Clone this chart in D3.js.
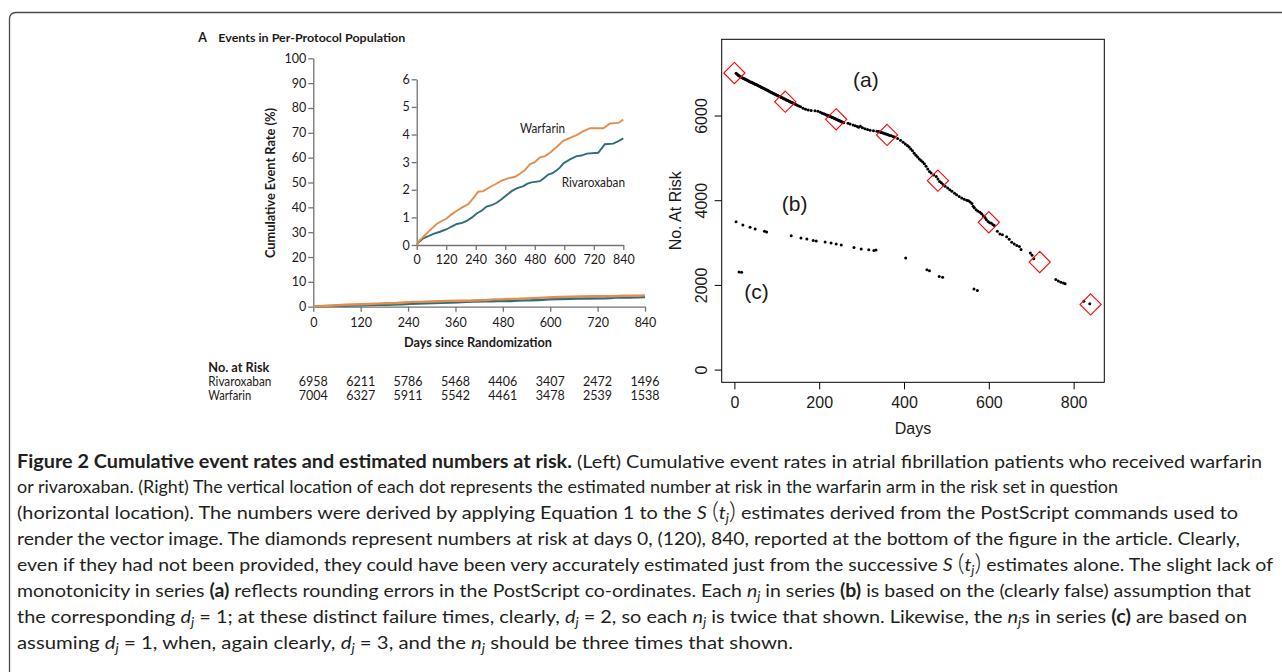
<!DOCTYPE html>
<html>
<head>
<meta charset="utf-8">
<script src="https://cdn.jsdelivr.net/npm/d3@7"></script>
<style>
  body { margin: 0; background: #fff; }
  svg { display: block; }
</style>
</head>
<body>
<svg id="fig" width="1282" height="672"></svg>
<script>
// ---- data ---------------------------------------------------------
const riskDays        = [0, 120, 240, 360, 480, 600, 720, 840];
const riskRivaroxaban = [6958, 6211, 5786, 5468, 4406, 3407, 2472, 1496];
const riskWarfarin    = [7004, 6327, 5911, 5542, 4461, 3478, 2539, 1538];

const mainYTicks  = [0, 10, 20, 30, 40, 50, 60, 70, 80, 90, 100];
const insetYTicks = [0, 1, 2, 3, 4, 5, 6];
const rightXTicks = [0, 200, 400, 600, 800];
const rightYTicks = [0, 2000, 4000, 6000];

// cumulative event rate (%), [day, rate]
const warfarinCurve = [
  [0,0],[10,0.15],[27,0.3],[50,0.5],[81,0.76],[100,0.86],[122,0.96],[140,1.1],[163,1.24],
  [185,1.36],[210,1.48],[230,1.7],[250,1.93],[271,1.95],[298,2.1],[320,2.2],[345,2.33],
  [375,2.42],[400,2.47],[420,2.58],[440,2.71],[461,2.93],[480,3.0],[501,3.17],[522,3.22],
  [542,3.34],[569,3.55],[596,3.77],[623,3.88],[650,3.98],[678,4.12],[705,4.23],[730,4.23],
  [759,4.23],[786,4.4],[820,4.42],[840,4.54]
];
const rivaroxabanCurve = [
  [0,0],[10,0.12],[27,0.24],[50,0.33],[68,0.4],[95,0.48],[122,0.57],[140,0.66],[163,0.76],
  [185,0.8],[203,0.87],[225,1.0],[244,1.14],[265,1.25],[284,1.39],[305,1.44],[325,1.53],
  [345,1.66],[366,1.81],[386,1.95],[406,2.05],[434,2.13],[450,2.22],[467,2.27],[501,2.31],
  [518,2.43],[535,2.55],[552,2.6],[569,2.71],[582,2.8],[596,2.95],[623,3.1],[650,3.22],
  [670,3.24],[691,3.31],[738,3.34],[752,3.5],[765,3.65],[799,3.67],[820,3.76],[840,3.86]
];

// estimated numbers at risk, [day, n]
const seriesA = [
  [4,7001],[7,6972],[9,6950],[11,6942],[13,6925],[15,6918],[17,6900],[19,6889],[21,6880],[23,6866],
  [25,6860],[27,6845],[29,6842],[31,6826],[33,6820],[35,6806],[37,6798],[39,6788],[41,6783],[43,6768],
  [45,6760],[47,6748],[49,6740],[51,6730],[53,6724],[55,6710],[57,6706],[59,6692],[61,6683],[63,6670],
  [65,6662],[67,6648],[69,6640],[71,6630],[73,6620],[75,6608],[77,6602],[79,6588],[81,6578],[83,6570],
  [85,6556],[87,6547],[89,6538],[91,6526],[93,6517],[95,6506],[97,6498],[99,6486],[101,6476],[103,6468],
  [105,6456],[107,6448],[109,6437],[111,6428],[113,6418],[115,6408],[117,6398],[119,6388],[121,6378],
  [123,6366],[125,6356],[127,6348],[129,6336],[131,6328],[133,6318],[135,6306],[137,6300],[139,6290],
  [142,6275],[145,6262],[148,6245],[152,6225],[156,6205],[162,6172],[168,6150],[174,6130],[181,6118],
  [190,6110],[197,6100],[203,6075],[207,6055],[211,6040],[214,6030],[217,6015],[219,6008],[221,6000],
  [223,5990],[225,5982],[227,5972],[229,5965],[231,5955],[233,5945],[235,5935],[237,5928],[239,5918],
  [241,5908],[243,5898],[245,5890],[247,5880],[249,5872],[251,5862],[253,5852],[255,5842],[258,5830],
  [268,5815],[273,5800],[280,5778],[285,5760],[290,5742],[293,5722],[297,5745],[302,5710],[308,5688],
  [314,5668],[320,5650],[328,5640],[336,5628],[340,5620],[343,5612],[346,5600],[349,5592],[352,5582],
  [355,5572],[358,5562],[361,5552],[364,5540],[367,5530],[370,5520],[374,5505],[378,5490],[385,5455],
  [392,5415],[398,5370],[403,5330],[408,5290],[412,5255],[416,5210],[420,5170],[424,5110],[428,5060],
  [432,5020],[436,4975],[440,4935],[444,4900],[448,4860],[452,4800],[456,4740],[460,4680],[464,4640],
  [470,4598],[476,4560],[480,4500],[484,4440],[488,4410],[492,4370],[497,4330],[503,4290],[508,4250],
  [513,4210],[519,4165],[524,4130],[530,4090],[536,4050],[542,4020],[548,4000],[552,3985],[556,3955],
  [560,3925],[563,3860],[566,3820],[570,3775],[574,3745],[579,3715],[583,3680],[587,3635],[591,3590],
  [594,3545],[598,3500],[602,3470],[606,3455],[610,3420],[613,3400],[620,3270],[626,3200],[632,3185],
  [642,3135],[648,3080],[654,3010],[660,2965],[666,2930],[672,2905],[676,2835],[698,2755],[702,2700],
  [706,2620],[758,2130],[764,2095],[770,2065],[776,2045],[780,2025],[824,1612],[838,1555]
];
const seriesB = [
  [4,3490],[20,3415],[37,3360],[49,3320],[71,3265],[76,3250],[134,3160],[157,3105],[171,3085],
  [186,3050],[193,3035],[214,3015],[228,2990],[240,2965],[252,2940],[282,2885],[299,2850],
  [317,2830],[329,2815],[334,2825],[404,2635],[454,2360],[460,2335],[483,2200],[491,2180],
  [565,1905],[573,1870]
];
const seriesC = [[11,2305],[17,2296]];

const seriesNames   = ["(a)", "(b)", "(c)"];
const seriesNameDay = [310, 142, 52];
const seriesNameN   = [6800, 3890, 1810];

// caption: [text, style]   b = bold, i = italic, sub = subscript, big = large bracket
const captionLines = [
  [["Figure 2 Cumulative event rates and estimated numbers at risk.", "b"], [" (Left) Cumulative event rates in atrial fibrillation patients who received warfarin"]],
  [["or rivaroxaban. (Right) The vertical location of each dot represents the estimated number at risk in the warfarin arm in the risk set in question"]],
  [["(horizontal location). The numbers were derived by applying Equation 1 to the "], ["S", "i"], [" "], ["(", "big"], ["t", "i"], ["j", "sub"], [")", "big"], [" estimates derived from the PostScript commands used to"]],
  [["render the vector image. The diamonds represent numbers at risk at days 0, (120), 840, reported at the bottom of the figure in the article. Clearly,"]],
  [["even if they had not been provided, they could have been very accurately estimated just from the successive "], ["S", "i"], [" "], ["(", "big"], ["t", "i"], ["j", "sub"], [")", "big"], [" estimates alone. The slight lack of"]],
  [["monotonicity in series "], ["(a)", "b"], [" reflects rounding errors in the PostScript co-ordinates. Each "], ["n", "i"], ["j", "sub"], [" in series "], ["(b)", "b"], [" is based on the (clearly false) assumption that"]],
  [["the corresponding "], ["d", "i"], ["j", "sub"], [" = 1; at these distinct failure times, clearly, "], ["d", "i"], ["j", "sub"], [" = 2, so each "], ["n", "i"], ["j", "sub"], [" is twice that shown. Likewise, the "], ["n", "i"], ["j", "sub"], ["s in series "], ["(c)", "b"], [" are based on"]],
  [["assuming "], ["d", "i"], ["j", "sub"], [" = 1, when, again clearly, "], ["d", "i"], ["j", "sub"], [" = 3, and the "], ["n", "i"], ["j", "sub"], [" should be three times that shown."]]
];

// ---- layout -------------------------------------------------------
const svg = d3.select("#fig");
const leftFont  = "Lato, 'Open Sans', sans-serif";
const rightFont = "'Liberation Sans', Arial, sans-serif";
const ink = "#1e1a1b", axisGrey = "#737373";
const orange = "#e38d4f", teal = "#2e6d7c";
const intFmt = d3.format("d");

// frame
svg.append("rect")
  .attr("x", 9.5).attr("y", 12.5).attr("width", 1320).attr("height", 720).attr("rx", 6)
  .attr("fill", "none").attr("stroke", "#4a4a4a").attr("stroke-width", 1.3);

// ---- left panel ---------------------------------------------------
const left = svg.append("g").attr("font-family", leftFont).attr("fill", ink);

const xL = d3.scaleLinear().domain([0, 840]).range([313.3, 645]);
const yL = d3.scaleLinear().domain([0, 100]).range([306.7, 58.3]);
const xI = d3.scaleLinear().domain([0, 840]).range([416.7, 623.3]);
const yI = d3.scaleLinear().domain([0, 6]).range([245, 79.3]);

function styleLeftAxis(g) {
  g.attr("font-family", leftFont).attr("font-size", 12.5);
  g.select(".domain").attr("stroke", axisGrey).attr("stroke-width", 1.3);
  g.selectAll(".tick line").attr("stroke", axisGrey).attr("stroke-width", 1.3);
  g.selectAll(".tick text").attr("fill", ink);
}

// title
left.append("text").attr("x", 198.3).attr("y", 42).attr("font-weight", 700).attr("font-size", 12.5).text("A");
left.append("text").attr("x", 218.3).attr("y", 42).attr("font-weight", 700).attr("font-size", 12)
  .attr("textLength", 187).attr("lengthAdjust", "spacingAndGlyphs").text("Events in Per-Protocol Population");

// main axes
left.append("g").attr("transform", `translate(0,${yL(0)})`)
  .call(d3.axisBottom(xL).tickValues(riskDays).tickFormat(intFmt).tickSize(5).tickSizeOuter(0).tickPadding(6))
  .call(styleLeftAxis);
left.append("g").attr("transform", `translate(${xL(0)},0)`)
  .call(d3.axisLeft(yL).tickValues(mainYTicks).tickFormat(intFmt).tickSize(5).tickSizeOuter(0).tickPadding(2))
  .call(styleLeftAxis);

left.append("text").attr("transform", "translate(275,183) rotate(-90)")
  .attr("text-anchor", "middle").attr("font-weight", 700).attr("font-size", 12.5)
  .attr("textLength", 150).attr("lengthAdjust", "spacingAndGlyphs").text("Cumulative Event Rate (%)");
left.append("text").attr("x", 478).attr("y", 347.3)
  .attr("text-anchor", "middle").attr("font-weight", 700).attr("font-size", 12.5)
  .attr("textLength", 148).attr("lengthAdjust", "spacingAndGlyphs").text("Days since Randomization");

const lineL = d3.line().x(d => xL(d[0])).y(d => yL(d[1]));
left.append("path").datum(rivaroxabanCurve).attr("d", lineL).attr("fill", "none").attr("stroke", teal).attr("stroke-width", 2.4);
left.append("path").datum(warfarinCurve).attr("d", lineL).attr("fill", "none").attr("stroke", orange).attr("stroke-width", 2.4);

// inset
left.append("g").attr("transform", `translate(0,${yI(0)})`)
  .call(d3.axisBottom(xI).tickValues(riskDays).tickFormat(intFmt).tickSize(5).tickSizeOuter(0).tickPadding(5))
  .call(styleLeftAxis);
left.append("g").attr("transform", `translate(${xI(0)},0)`)
  .call(d3.axisLeft(yI).tickValues(insetYTicks).tickFormat(intFmt).tickSize(5).tickSizeOuter(0).tickPadding(2))
  .call(styleLeftAxis);

const lineI = d3.line().x(d => xI(d[0])).y(d => yI(d[1]));
left.append("path").datum(rivaroxabanCurve).attr("d", lineI).attr("fill", "none").attr("stroke", teal).attr("stroke-width", 1.9);
left.append("path").datum(warfarinCurve).attr("d", lineI).attr("fill", "none").attr("stroke", orange).attr("stroke-width", 1.9);

left.append("text").attr("x", 520).attr("y", 132.7).attr("font-size", 12.5)
  .attr("textLength", 45).attr("lengthAdjust", "spacingAndGlyphs").text("Warfarin");
left.append("text").attr("x", 561.7).attr("y", 186.7).attr("font-size", 12.5)
  .attr("textLength", 63.3).attr("lengthAdjust", "spacingAndGlyphs").text("Rivaroxaban");

// number at risk table
left.append("text").attr("x", 208.3).attr("y", 371.5).attr("font-weight", 700).attr("font-size", 12.5)
  .attr("textLength", 61).attr("lengthAdjust", "spacingAndGlyphs").text("No. at Risk");
left.append("text").attr("x", 208.3).attr("y", 386).attr("font-size", 12.5)
  .attr("textLength", 63).attr("lengthAdjust", "spacingAndGlyphs").text("Rivaroxaban");
left.append("text").attr("x", 208.3).attr("y", 400.3).attr("font-size", 12.5)
  .attr("textLength", 43).attr("lengthAdjust", "spacingAndGlyphs").text("Warfarin");

left.selectAll("text.riskR").data(riskRivaroxaban).join("text").attr("class", "riskR")
  .attr("x", (d, i) => xL(riskDays[i])).attr("y", 386).attr("text-anchor", "middle").attr("font-size", 12.5)
  .text(d => d);
left.selectAll("text.riskW").data(riskWarfarin).join("text").attr("class", "riskW")
  .attr("x", (d, i) => xL(riskDays[i])).attr("y", 400.3).attr("text-anchor", "middle").attr("font-size", 12.5)
  .text(d => d);

// ---- right panel --------------------------------------------------
const right = svg.append("g").attr("font-family", rightFont).attr("fill", "#000");

const xR = d3.scaleLinear().domain([-29.9, 872.3]).range([721.7, 1104.3]);
const yR = d3.scaleLinear().domain([-300, 7800]).range([382.3, 39.3]);

right.append("rect")
  .attr("x", xR.range()[0]).attr("y", yR.range()[1])
  .attr("width", xR.range()[1] - xR.range()[0]).attr("height", yR.range()[0] - yR.range()[1])
  .attr("fill", "none").attr("stroke", "#000").attr("stroke-width", 1);

const xAxisR = right.append("g").attr("transform", `translate(0,${yR.range()[0]})`)
  .call(d3.axisBottom(xR).tickValues(rightXTicks).tickFormat(intFmt).tickSize(7).tickSizeOuter(0).tickPadding(7));
const yAxisR = right.append("g").attr("transform", `translate(${xR.range()[0]},0)`)
  .call(d3.axisLeft(yR).tickValues(rightYTicks).tickFormat(intFmt).tickSize(7).tickSizeOuter(0));
[xAxisR, yAxisR].forEach(g => {
  g.attr("font-family", rightFont).attr("font-size", 16);
  g.select(".domain").remove();
  g.selectAll(".tick line").attr("stroke", "#000");
  g.selectAll(".tick text").attr("fill", "#1a1a1a");
});
yAxisR.selectAll(".tick text")
  .attr("x", 0).attr("dy", 0).attr("text-anchor", "middle")
  .attr("transform", "translate(-14.3,0) rotate(-90)");

right.append("text").attr("x", (xR.range()[0] + xR.range()[1]) / 2).attr("y", 434)
  .attr("text-anchor", "middle").attr("font-size", 16).attr("fill", "#1a1a1a").text("Days");
right.append("text").attr("transform", `translate(680.5,${(yR.range()[0] + yR.range()[1]) / 2}) rotate(-90)`)
  .attr("text-anchor", "middle").attr("font-size", 16).attr("fill", "#1a1a1a").text("No. At Risk");

const dots = right.append("g").attr("fill", "#000");
[seriesA, seriesB, seriesC].forEach(s => {
  dots.selectAll(null).data(s).join("circle")
    .attr("cx", d => xR(d[0])).attr("cy", d => yR(d[1])).attr("r", 1.5);
});

const dsz = 10.6;
right.append("g").selectAll("path").data(riskWarfarin).join("path")
  .attr("transform", (d, i) => `translate(${xR(riskDays[i])},${yR(d)})`)
  .attr("d", `M0,${-dsz}L${dsz},0L0,${dsz}L${-dsz},0Z`)
  .attr("fill", "none").attr("stroke", "#ff0000").attr("stroke-width", 1.1);

right.selectAll("text.series").data(seriesNames).join("text").attr("class", "series")
  .attr("x", (d, i) => xR(seriesNameDay[i])).attr("y", (d, i) => yR(seriesNameN[i]))
  .attr("dy", "0.27em").attr("text-anchor", "middle").attr("font-size", 21).attr("fill", "#1a1a1a")
  .text(d => d);

// ---- caption ------------------------------------------------------
const capX = 17, capY0 = 467.5, capLead = 25.9;
const capWidths = [1245, 1101, 1221, 1223, 1256, 1234, 1230, 776];
const cap = svg.append("g").attr("font-family", "Lato, 'Open Sans', sans-serif").attr("font-size", 18).attr("fill", "#231f20");

captionLines.forEach((segs, li) => {
  const t = cap.append("text").attr("x", capX).attr("y", capY0 + li * capLead);
  let shifted = 0;
  segs.forEach(([txt, st]) => {
    const ts = t.append("tspan").text(txt);
    if (st === "sub") {
      ts.attr("font-style", "italic").attr("font-size", 12.5).attr("dy", 4);
      shifted = 4;
      return;
    }
    if (shifted) { ts.attr("dy", -shifted); shifted = 0; }
    if (st === "b") ts.attr("font-weight", 700);
    if (st === "i") ts.attr("font-style", "italic");
    if (st === "big") ts.attr("font-size", 24).attr("font-weight", 300);
  });
  t.attr("textLength", capWidths[li]).attr("lengthAdjust", "spacingAndGlyphs");
});
</script>
</body>
</html>
